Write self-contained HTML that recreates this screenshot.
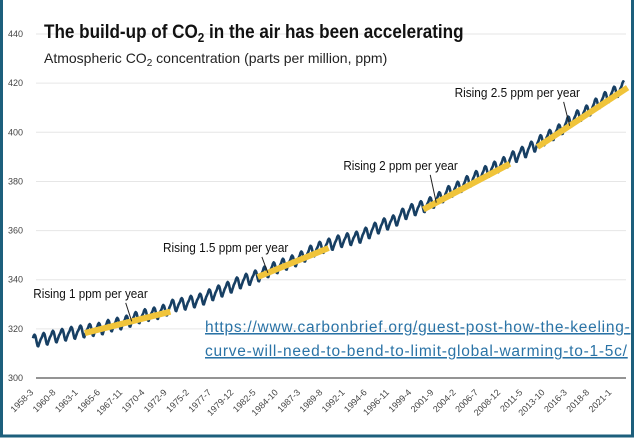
<!DOCTYPE html>
<html><head><meta charset="utf-8"><style>
html,body{margin:0;padding:0;background:#fff;}
#wrap{position:relative;width:636px;height:438px;overflow:hidden;}
svg text{font-family:"Liberation Sans",sans-serif;}
</style></head><body>
<div id="wrap">
<svg id="chart" width="636" height="438">
  <rect x="1.5" y="-3" width="631" height="439" fill="#fff" stroke="#1d5f7c" stroke-width="3"/>
  <g id="grid"></g>
  <g id="yticks"></g>
  <g id="xticks"></g>
  <path id="curve" fill="none" stroke="#173f63" stroke-width="2.6" stroke-linejoin="round"/>
  <g id="trends"></g>
  <g id="annots"></g>
  <g transform="translate(44,0) scale(0.9,1)">
  <text x="0" y="38" font-size="19" font-weight="bold" fill="#111">The build-up of CO<tspan font-size="13" dy="4">2</tspan><tspan dy="-4"> in the air has been accelerating</tspan></text>
  </g>
  <text x="44" y="63" font-size="14" fill="#222">Atmospheric CO<tspan font-size="10" dy="3">2</tspan><tspan dy="-3"> concentration (parts per million, ppm)</tspan></text>
  <a>
  <text x="205" y="332" font-size="15.5" letter-spacing="0.75" fill="#2a73a6" text-decoration="underline">https://www.carbonbrief.org/guest-post-how-the-keeling-</text>
  <text x="205" y="356" font-size="15.5" letter-spacing="0.75" fill="#2a73a6" text-decoration="underline">curve-will-need-to-bend-to-limit-global-warming-to-1-5c/</text>
  </a>
</svg>
</div>
<script>
const years=[1958,1959,1960,1961,1962,1963,1964,1965,1966,1967,1968,1969,1970,1971,1972,1973,1974,1975,1976,1977,1978,1979,1980,1981,1982,1983,1984,1985,1986,1987,1988,1989,1990,1991,1992,1993,1994,1995,1996,1997,1998,1999,2000,2001,2002,2003,2004,2005,2006,2007,2008,2009,2010,2011,2012,2013,2014,2015,2016,2017,2018,2019,2020,2021,2022];
const annualMean=[315.3,315.98,316.91,317.64,318.45,318.99,319.62,320.04,321.37,322.18,323.05,324.62,325.68,326.32,327.46,329.68,330.19,331.12,332.03,333.84,335.41,336.84,338.76,340.12,341.48,343.15,344.87,346.35,347.61,349.31,351.69,353.20,354.45,355.70,356.54,357.21,358.96,360.97,362.74,363.88,366.84,368.54,369.71,371.32,373.45,375.98,377.70,379.98,382.09,384.02,385.83,387.64,390.10,391.85,394.06,396.74,398.81,401.01,404.41,406.76,408.72,411.66,414.24,416.45,418.56];
const seasonal=[0.0,0.5,1.1,2.0,2.4,1.9,0.7,-1.0,-2.4,-2.6,-1.6,-0.8];
const yTicks=[300,320,340,360,380,400,420,440];
const xLabels=["1958-3","1960-8","1963-1","1965-6","1967-11","1970-4","1972-9","1975-2","1977-7","1979-12","1982-5","1984-10","1987-3","1989-8","1992-1","1994-6","1996-11","1999-4","2001-9","2004-2","2006-7","2008-12","2011-5","2013-10","2016-3","2018-8","2021-1"];
const trendStart=[1963.8,1982.6,2000.6,2013.0];
const trendEnd=[1973.1,1990.3,2010.0,2022.8];
const trendStartVal=[318.3,341.1,368.6,394.0];
const trendEndVal=[327.0,352.9,387.2,418.2];
const annotLabels=["Rising 1 ppm per year","Rising 1.5 ppm per year","Rising 2 ppm per year","Rising 2.5 ppm per year"];
const annotYear=[1958.2,1972.3,1991.9,2004.0];
const annotVal=[332.6,351.3,384.7,414.4];
const annotAt=[1968.9,1983.7,2002.0,2016.5];

const NS="http://www.w3.org/2000/svg";
const X0=1958.17,PX0=33,PXY=9.2;
function xs(t){return PX0+(t-X0)*PXY;}
function ys(v){return 378-(v-300)*2.457;}
function mk(tag,attrs,parent){const e=document.createElementNS(NS,tag);for(const k in attrs)e.setAttribute(k,attrs[k]);parent.appendChild(e);return e;}
const grid=document.getElementById('grid'),yt=document.getElementById('yticks'),xt=document.getElementById('xticks');
yTicks.forEach(v=>{
  const l=mk('line',{x1:36,x2:626,y1:ys(v),y2:ys(v),stroke:v===300?'#555':'#e6e6e6','stroke-width':v===300?1.3:1},grid);
  
  
  const t=mk('text',{x:8,y:ys(v)+3,'font-size':9,fill:'#444'},yt);
  t.textContent=v;
  
  
});
xLabels.forEach(s=>{
  const [yr,mo]=s.split('-').map(Number);
  const x=xs(yr+(mo-1)/12);
  const t=mk('text',{x:0,y:0,'font-size':9,fill:'#444','text-anchor':'end',transform:`translate(${x+1},${393}) rotate(-45)`},xt);
  t.textContent=s;
  
  
});
let d='';
for(let i=0;i<years.length;i++){
  for(let m=0;m<12;m++){
    const t=years[i]+m/12;
    if(t<X0-0.01||t>2022.45)continue;
    const tc=t+1/24-0.5; let j=Math.min(Math.max(Math.floor(tc-years[0]),0),years.length-2);
    const f=tc-years[j];
    const base=annualMean[j]+(annualMean[j+1]-annualMean[j])*f;
    const v=base+seasonal[m];
    d+=(d?'L':'M')+xs(t).toFixed(1)+','+ys(v).toFixed(1);
  }
}
document.getElementById('curve').setAttribute('d',d);
const tr=document.getElementById('trends'),an=document.getElementById('annots');
trendStart.forEach((s,i)=>{
  const l=mk('line',{x1:xs(s),y1:ys(trendStartVal[i]),x2:xs(trendEnd[i]),y2:ys(trendEndVal[i]),stroke:'#f0c43a','stroke-width':6},tr);
  
  
  const tx=xs(annotYear[i]),ty=ys(annotVal[i]);
  const t=mk('text',{x:tx,y:ty,'font-size':13,fill:'#111',textLength:annotLabels[i].length*5.45,lengthAdjust:'spacingAndGlyphs'},an);
  t.textContent=annotLabels[i];
  
  
  const ax=xs(annotAt[i]);
  const sv=trendStartVal[i]+(trendEndVal[i]-trendStartVal[i])*(annotAt[i]-s)/(trendEnd[i]-s);
  const ll=mk('line',{x1:ax-6,y1:ty+5,x2:ax,y2:ys(sv),stroke:'#222','stroke-width':1},an);
  
  
});
</script>
</body></html>
